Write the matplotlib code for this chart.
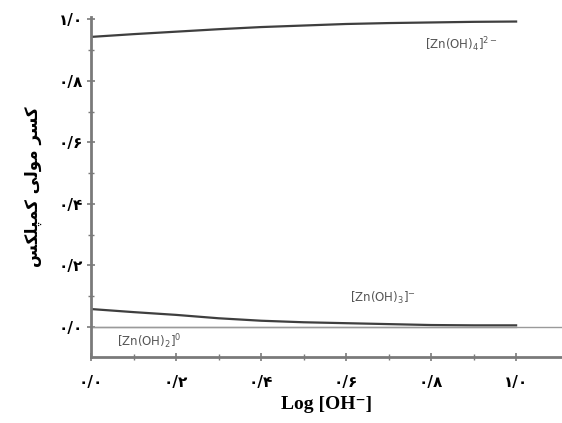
import matplotlib
matplotlib.use("Agg")
import matplotlib.pyplot as plt
import numpy as np

# data
log_oh = [0.0, 0.1, 0.2, 0.3, 0.4, 0.5, 0.6, 0.7, 0.8, 0.9, 1.0]
zn_oh4 = [0.943, 0.952, 0.960, 0.968, 0.975, 0.980, 0.985, 0.988, 0.990, 0.992, 0.993]
zn_oh3 = [0.058, 0.048, 0.039, 0.028, 0.020, 0.015, 0.012, 0.009, 0.006, 0.005, 0.005]
zn_oh2 = [0.0, 0.0, 0.0, 0.0, 0.0, 0.0, 0.0, 0.0, 0.0, 0.0, 0.0]

x_ticks = [0.0, 0.2, 0.4, 0.6, 0.8, 1.0]
y_ticks = [0.0, 0.2, 0.4, 0.6, 0.8, 1.0]
tick_labels = ["۰/۰", "۰/۲", "۰/۴", "۰/۶", "۰/۸", "۱/۰"]

# "کسر مولی کمپلکس" in presentation forms, visual (left-to-right) order
ylabel_logical = "\uFB90\uFEB4\uFEAE \uFEE3\uFEEE\uFEDF\uFBFD \uFB90\uFEE4\uFB59\uFEE0\uFB91\uFEB2"
ylabel_text = ylabel_logical[::-1]

fig = plt.figure(figsize=(5.62, 4.23), dpi=100)
ax = fig.add_axes([0.162, 0.156, 0.838, 0.804])

spine_col = "#7a7a7a"
ax.plot(log_oh, zn_oh2, color="#9a9a9a", lw=1.0)
ax.plot(log_oh, zn_oh4, color="#3f3f3f", lw=1.6)
ax.plot(log_oh, zn_oh3, color="#3f3f3f", lw=1.6)
ax.axhline(0.0, color="#9a9a9a", lw=1.0)

ax.set_xlim(0.0, 1.108)
ax.set_ylim(-0.098, 1.008)

for s in ["top", "right"]:
    ax.spines[s].set_visible(False)
for s in ["left", "bottom"]:
    ax.spines[s].set_color(spine_col)
    ax.spines[s].set_linewidth(2.0)

ax.set_xticks(x_ticks)
ax.set_xticklabels(tick_labels)
ax.set_yticks(y_ticks)
ax.set_yticklabels(tick_labels)
ax.set_xticks(np.arange(0.1, 1.1, 0.2), minor=True)
ax.set_yticks(np.arange(0.1, 1.0, 0.2), minor=True)
ax.tick_params(axis="both", which="major", direction="inout", length=6, width=1.2,
               color=spine_col, labelsize=11)
ax.tick_params(axis="both", which="minor", direction="inout", length=4, width=1.0,
               color=spine_col)
ax.tick_params(axis="x", which="major", pad=10)
ax.tick_params(axis="y", which="major", pad=3)
for lab in ax.get_xticklabels() + ax.get_yticklabels():
    lab.set_fontweight("bold")
    lab.set_family(["DejaVu Sans"])

ax.set_xlabel("Log [OH\u207B]", family=["Liberation Serif", "DejaVu Serif"],
              fontweight="bold", fontsize=14, labelpad=4)
ax.set_ylabel(ylabel_text, family="DejaVu Sans", fontweight="bold", fontsize=12, labelpad=12)

lab_col = "#555555"
ax.text(0.786, 0.917, r"[Zn(OH)$_4$]$^{2-}$", color=lab_col, fontsize=8.5, va="center", ha="left")
ax.text(0.61, 0.094, r"[Zn(OH)$_3$]$^{-}$", color=lab_col, fontsize=8.5, va="center", ha="left")
ax.text(0.061, -0.049, r"[Zn(OH)$_2$]$^{0}$", color=lab_col, fontsize=8.5, va="center", ha="left")

fig.savefig("out.png", dpi=100)
